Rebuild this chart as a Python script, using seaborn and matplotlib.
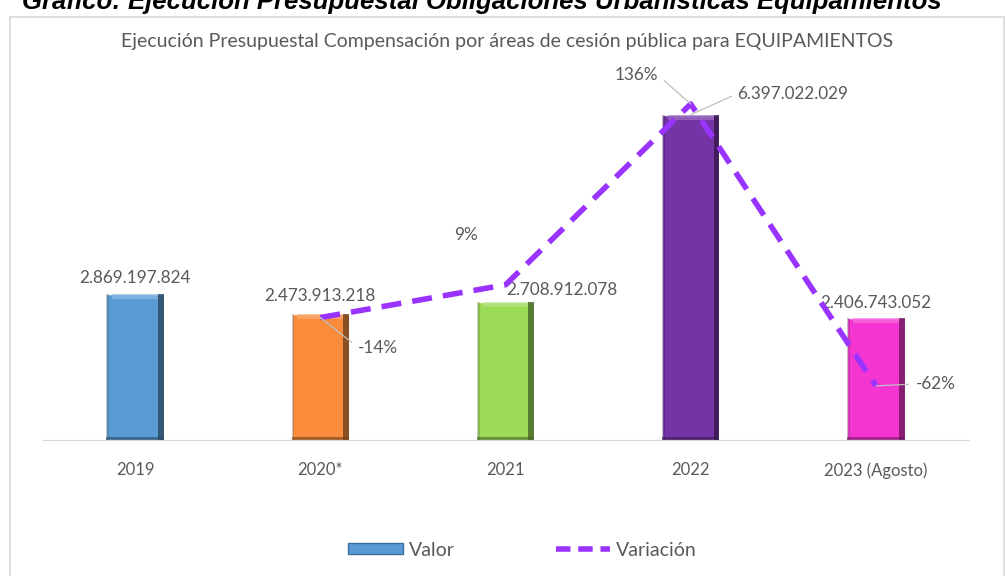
import numpy as np
import pandas as pd
import matplotlib.pyplot as plt
import seaborn as sns
from matplotlib.patches import Patch, Rectangle
from matplotlib.lines import Line2D

# Datos del gráfico
anios = ['2019', '2020*', '2021', '2022', '2023 (Agosto)']
valores = [2869197824, 2473913218, 2708912078, 6397022029, 2406743052]
variacion = [np.nan, -14, 9, 136, -62]
etiquetas_valor = ['2.869.197.824', '2.473.913.218', '2.708.912.078', '6.397.022.029', '2.406.743.052']
colores = ['#5B9BD5', '#F98B3A', '#9CDB55', '#7434A6', '#F535D2']

df = pd.DataFrame({'Año': anios, 'Valor': valores, 'Variacion': variacion})

sns.set_style('white')
plt.rcParams['font.family'] = ['Lato', 'DejaVu Sans']

gris = '#595959'
fig = plt.figure(figsize=(10.05, 5.76), dpi=100)
ax = fig.add_axes([0.0423, 0.2361, 0.9214, 0.618])

# Barras
sns.barplot(data=df, x='Año', y='Valor', hue='Año', palette=colores, legend=False,
            width=0.31, ax=ax, saturation=1)

# Efecto de bisel sencillo
for p in ax.patches:
    x0, w, h = p.get_x(), p.get_width(), p.get_height()
    c = p.get_facecolor()
    oscuro = tuple(v * 0.45 for v in c[:3])
    claro = tuple(min(1, v + (1 - v) * 0.3) for v in c[:3])
    ax.add_patch(Rectangle((x0 + w * 0.9, 0), w * 0.1, h, color=oscuro, alpha=0.8, lw=0))
    ax.add_patch(Rectangle((x0 + w * 0.1, h - 0.1e9), w * 0.8, 0.1e9, color=claro, alpha=0.7, lw=0))
    ax.add_patch(Rectangle((x0, 0), w * 0.05, h, color=oscuro, alpha=0.3, lw=0))
    ax.add_patch(Rectangle((x0, 0), w, 0.05e9, color=oscuro, alpha=0.6, lw=0))

ax.set_ylim(0, 7e9)
ax.set_xlim(-0.5, 4.5)
ax.set_xlabel('')
ax.set_ylabel('')
ax.set_yticks([])
ax.tick_params(axis='x', length=0, labelsize=12, colors=gris, pad=16)
for s in ['top', 'right', 'left']:
    ax.spines[s].set_visible(False)
ax.spines['bottom'].set_color('#D9D9D9')

# Etiquetas de valor
offs_valor = [(0, 16), (0, 18), (56, 12), (102, 21), (0, 15)]
for i, (v, t, o) in enumerate(zip(valores, etiquetas_valor, offs_valor)):
    if i == 3:
        ax.annotate(t, xy=(i, v), xytext=o, textcoords='offset pixels', ha='center', va='center',
                    fontsize=12.3, color=gris,
                    arrowprops=dict(arrowstyle='-', color='#BFBFBF', lw=0.9, relpos=(0, 0.5),
                                    shrinkA=2, shrinkB=0))
    else:
        ax.annotate(t, xy=(i, v), xytext=o, textcoords='offset pixels', ha='center', va='center',
                    fontsize=12.3, color=gris)

# Línea de variación
ax2 = ax.twinx()
sns.lineplot(x=np.arange(len(anios)), y=df['Variacion'], ax=ax2, color='#9933FF', lw=4)
ax2.lines[0].set_dashes([3.6, 2])
ax2.set_ylim(-100, 150)
ax2.set_yticks([])
ax2.set_ylabel('')
for s in ax2.spines.values():
    s.set_visible(False)

offs_var = {1: (38, -30, 'left'), 2: (-40, 50, 'center'), 3: (-33, 29, 'right'), 4: (40, 2, 'left')}
for i, (dx, dy, ha) in offs_var.items():
    rel = {'left': (0, 0.5), 'right': (1, 0.5), 'center': (0.5, 0)}[ha]
    props = None if i == 2 else dict(arrowstyle='-', color='#BFBFBF', lw=0.9, relpos=rel,
                                     shrinkA=3, shrinkB=0)
    ax2.annotate(f'{int(variacion[i])}%', xy=(i, variacion[i]), xytext=(dx, dy),
                 textcoords='offset pixels', ha=ha, va='center', fontsize=12.3, color=gris,
                 arrowprops=props)

# Títulos
fig.text(0.505, 1 - 42 / 576, 'Ejecución Presupuestal Compensación por áreas de cesión pública para EQUIPAMIENTOS',
         ha='center', va='center', fontsize=14, color=gris)
fig.text(22 / 1005, 1 - 9 / 576, 'Gráfico: Ejecución Presupuestal Obligaciones Urbanísticas Equipamientos',
         ha='left', va='baseline', fontsize=18.5, fontweight='bold', fontstyle='italic',
         color='black', family='Liberation Sans')

# Marco del gráfico
fig.patches.append(Rectangle((10 / 1005, -0.01), 994 / 1005, (576 - 17) / 576 + 0.01,
                             transform=fig.transFigure, fill=False, edgecolor='#D9D9D9', lw=1.2))

# Leyenda
handles = [Patch(facecolor='#5B9BD5', edgecolor='#3A6F9E'),
           Line2D([0], [0], color='#9933FF', lw=4, dashes=[2.6, 1.4])]
fig.legend(handles, ['Valor', 'Variación'], loc='center', bbox_to_anchor=(0.52, 1 - 550 / 576),
           ncol=2, frameon=False, fontsize=14, handlelength=2.8, handletextpad=0.3,
           columnspacing=5.2, labelcolor=gris, handleheight=0.5)

fig.savefig('out.png', dpi=100)
